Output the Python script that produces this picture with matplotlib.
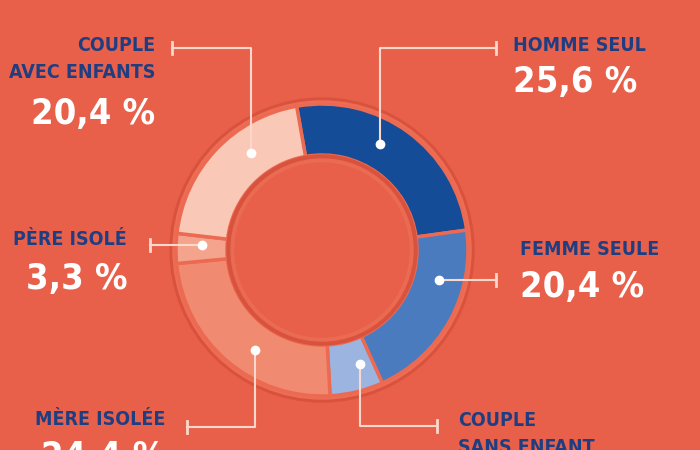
import numpy as np
import matplotlib
matplotlib.use("Agg")
import matplotlib.pyplot as plt
from matplotlib.patches import Circle
from matplotlib import font_manager

# =========================================================
# DATA
# =========================================================

categories = [
    "HOMME SEUL",
    "FEMME SEULE",
    "COUPLE\nSANS ENFANT",
    "MÈRE ISOLÉE",
    "PÈRE ISOLÉ",
    "COUPLE\nAVEC ENFANTS",
]

values = [25.6, 20.4, 5.9, 24.4, 3.3, 20.4]

value_labels = ["25,6 %", "20,4 %", "5,9 %", "24,4 %", "3,3 %", "20,4 %"]

colors = ["#154c98", "#4b7bbf", "#9bb5e0", "#f08b71", "#f4a48d", "#f9c8b7"]

# =========================================================
# STYLE
# =========================================================

BG = "#e8604a"
NAVY = "#1f3e82"
LINE = "#fbd8cb"

plt.rcParams["font.family"] = ["DejaVu Sans"]

# condensed face if it is there
cond = font_manager.findfont(
    font_manager.FontProperties(family="DejaVu Sans", weight="bold", stretch="condensed")
)
HAS_COND = "Condensed" in cond
STRETCH = "condensed" if HAS_COND else "normal"
NAME_SIZE = 14 if HAS_COND else 12.5
PCT_SIZE = 26 if HAS_COND else 23

fig = plt.figure(figsize=(7, 4.5), dpi=100)
fig.patch.set_facecolor(BG)

ax = fig.add_axes([0, 0, 1, 1])
ax.set_facecolor(BG)

H = 450
cx, cy = 322, H - 250
R_OUT = 146
R_IN = 95

# ring base (darker border + bevel)
ax.add_patch(Circle((cx, cy), R_OUT + 6, color="#d9523d", zorder=1))
ax.add_patch(Circle((cx, cy), R_OUT + 3, color="#ee6d55", zorder=1))

wedges, _ = ax.pie(
    values,
    colors=colors,
    radius=R_OUT,
    center=(cx, cy),
    startangle=100,
    counterclock=False,
    wedgeprops=dict(width=R_OUT - R_IN, edgecolor="#ec6a52", linewidth=2.5),
)
for w in wedges:
    w.set_zorder(2)

ax.add_patch(Circle((cx, cy), R_IN, color="#d9523d", zorder=3))
ax.add_patch(Circle((cx, cy), R_IN - 4, color="#ea6a52", zorder=3))
ax.add_patch(Circle((cx, cy), R_IN - 8, color=BG, zorder=3))

ax.set_xlim(0, 700)
ax.set_ylim(0, H)
ax.axis("off")

R_MID = (R_OUT + R_IN) / 2

# =========================================================
# LEADERS
# =========================================================

def dot_from_x(x, up):
    dy = np.sqrt(R_MID ** 2 - (x - cx) ** 2)
    return (x, cy + dy if up else cy - dy)

def dot_from_y(y, right):
    dx = np.sqrt(R_MID ** 2 - (y - cy) ** 2)
    return (cx + dx if right else cx - dx, y)

leaders = [
    # dot, corner y, tick x
    (dot_from_x(380, True), 48, 496),
    (dot_from_y(H - 280, True), None, 496),
    (dot_from_x(360, False), 426, 437),
    (dot_from_x(255, False), 427, 187),
    (dot_from_y(H - 245, False), None, 150),
    (dot_from_x(251, True), 48, 172),
]

for dot, corner_y, tick_x in leaders:
    dx, dy = dot
    if corner_y is None:
        ty = dy
        ax.plot([dx, tick_x], [dy, dy], color=LINE, lw=1.5, zorder=4)
    else:
        ty = H - corner_y
        ax.plot([dx, dx, tick_x], [dy, ty, ty], color=LINE, lw=1.5, zorder=4)
    ax.plot([tick_x, tick_x], [ty - 6, ty + 6], color=LINE, lw=2, zorder=4)
    ax.plot(dx, dy, "o", color="white", ms=6, zorder=5)

# =========================================================
# TEXT
# =========================================================

text_pos = [
    # x, ha, name top y, pct top y
    (513, "left", 36, 65),
    (520, "left", 240, 270),
    (458, "left", 411, 475),
    (165, "right", 410, 440),
    (127, "right", 230, 262),
    (155, "right", 36, 97),
]

for (x, ha, ny, py), name, pct in zip(text_pos, categories, value_labels):
    ax.text(x, H - ny, name, ha=ha, va="top", color=NAVY,
            fontsize=NAME_SIZE, fontweight="bold", fontstretch=STRETCH,
            linespacing=1.55, zorder=6)
    ax.text(x, H - py, pct, ha=ha, va="top", color="white",
            fontsize=PCT_SIZE, fontweight="bold", fontstretch=STRETCH, zorder=6)

fig.savefig("out.png", dpi=100, facecolor=BG)
